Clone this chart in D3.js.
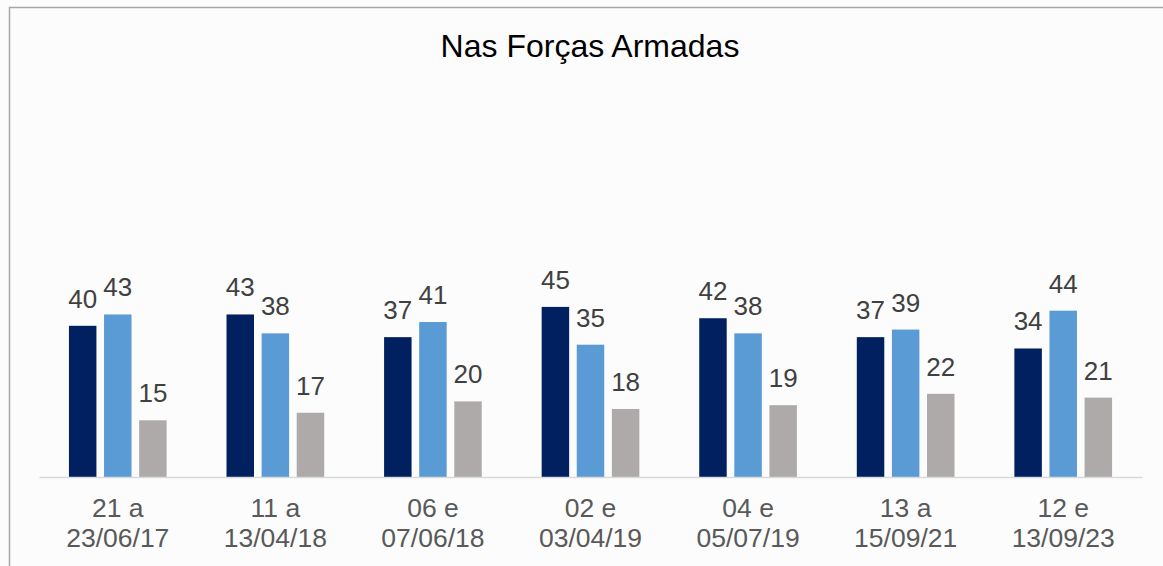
<!DOCTYPE html>
<html lang="pt">
<head>
    <meta charset="UTF-8"/>
    <title>Nas Forças Armadas</title>
    <script src="https://d3js.org/d3.v7.min.js"></script>
    <style>
        body { margin: 0; background: #fcfcfc; }
        svg { display: block; font-family: "Liberation Sans", Arial, sans-serif; }
    </style>
</head>
<body>
    <script>
        // Chart data
        var categories = ["21 a|23/06/17", "11 a|13/04/18", "06 e|07/06/18", "02 e|03/04/19",
                          "04 e|05/07/19", "13 a|15/09/21", "12 e|13/09/23"];
        var serie1 = [40, 43, 37, 45, 42, 37, 34];
        var serie2 = [43, 38, 41, 35, 38, 39, 44];
        var serie3 = [15, 17, 20, 18, 19, 22, 21];

        var w = 1163;
        var h = 566;
        var colors = ["#002060", "#5b9bd5", "#aeaaaa"];

        var svg = d3.select("body")
                    .append("svg")
                    .attr("width", w)
                    .attr("height", h);

        // Frame (cut off on the right and bottom like the original)
        svg.append("rect")
            .attr("x", 9.5)
            .attr("y", 7.5)
            .attr("width", w + 20)
            .attr("height", h + 20)
            .attr("fill", "#fcfcfc")
            .attr("stroke", "#a6a6a6")
            .attr("stroke-width", 1.5);

        // Title
        svg.append("text")
            .attr("x", 590)
            .attr("y", 57)
            .attr("text-anchor", "middle")
            .attr("font-size", "32px")
            .attr("fill", "#000")
            .text("Nas Forças Armadas");

        // Scales
        var xScale = d3.scaleBand()
                        .domain(categories)
                        .range([39, 1142])
                        .padding(0);

        var subScale = d3.scaleBand()
                        .domain([0, 1, 2])
                        .range([0, xScale.bandwidth()])
                        .paddingInner(0.217)
                        .paddingOuter(0.853);

        var yScale = d3.scaleLinear()
                        .domain([0, 100])
                        .range([477, 99]);

        // Rows: one per category, with the three values
        var rows = categories.map(function(c, i) {
            return { cat: c, values: [serie1[i], serie2[i], serie3[i]] };
        });

        var groups = svg.selectAll("g.group")
            .data(rows)
            .enter()
            .append("g")
            .attr("class", "group")
            .attr("transform", function(d) { return "translate(" + xScale(d.cat) + ",0)"; });

        groups.selectAll("rect")
            .data(function(d) { return d.values; })
            .enter()
            .append("rect")
            .attr("x", function(d, i) { return subScale(i); })
            .attr("y", function(d) { return yScale(d); })
            .attr("width", subScale.bandwidth())
            .attr("height", function(d) { return yScale(0) - yScale(d); })
            .attr("fill", function(d, i) { return colors[i]; });

        // Value labels
        groups.selectAll("text.val")
            .data(function(d) { return d.values; })
            .enter()
            .append("text")
            .attr("class", "val")
            .attr("x", function(d, i) { return subScale(i) + subScale.bandwidth() / 2; })
            .attr("y", function(d) { return yScale(d) - 18; })
            .attr("text-anchor", "middle")
            .attr("font-size", "26px")
            .attr("fill", "#404040")
            .text(function(d) { return d; });

        // X axis
        var xAxis = d3.axisBottom(xScale).tickSize(0).tickSizeOuter(0);
        var gx = svg.append("g")
            .attr("transform", "translate(0," + yScale(0) + ")")
            .call(xAxis);

        gx.select(".domain")
            .attr("stroke", "#d9d9d9")
            .attr("stroke-width", 1.5);

        gx.selectAll(".tick text").each(function(d) {
            var t = d3.select(this);
            var parts = d.split("|");
            t.text(null)
             .attr("y", 0)
             .attr("dy", null)
             .attr("font-size", "26.5px")
             .attr("font-family", "Liberation Sans, Arial, sans-serif")
             .attr("fill", "#595959");
            t.append("tspan").attr("x", 0).attr("y", 40).text(parts[0]);
            t.append("tspan").attr("x", 0).attr("y", 70).text(parts[1]);
        });
    </script>
</body>
</html>
